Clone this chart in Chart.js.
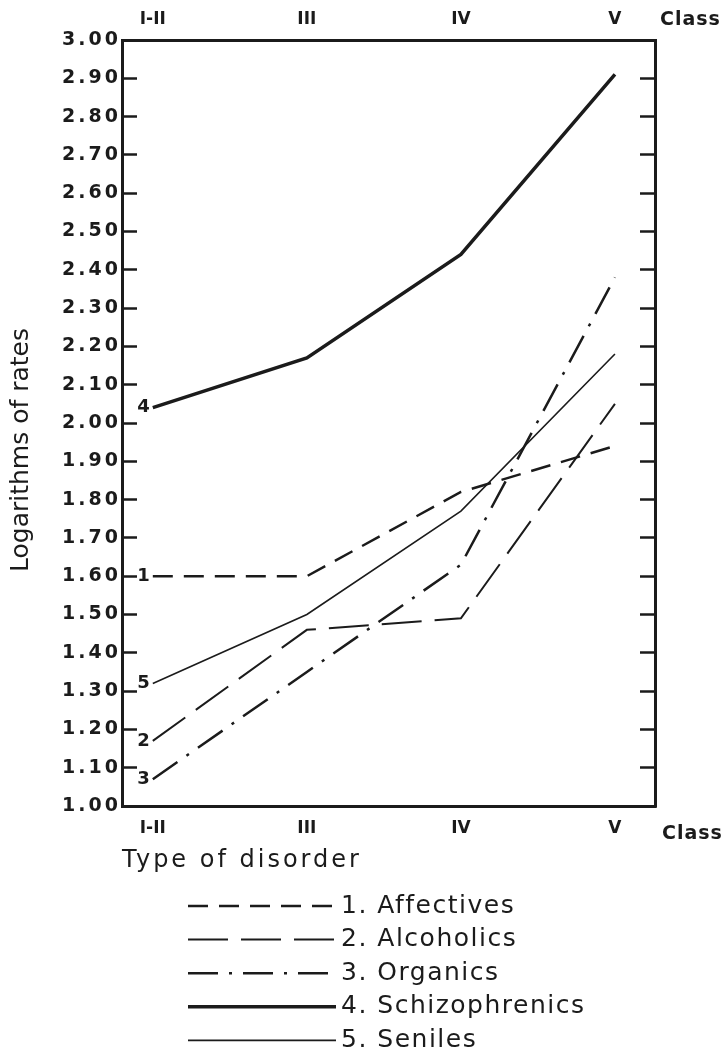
<!DOCTYPE html>
<html>
<head>
<meta charset="utf-8">
<script src="https://cdn.jsdelivr.net/npm/chart.js@4/dist/chart.umd.min.js"></script>
<style>
  html, body { margin: 0; padding: 0; background: #fff; }
  #wrap { width: 725px; height: 1061px; }
</style>
</head>
<body>
<div id="wrap"><canvas id="chart"></canvas></div>
<script>
// Class groups along the x axis
const classes = ['I-II', 'III', 'IV', 'V'];

// Logarithms of rates per class, one list per disorder
const affectives = [1.60, 1.60, 1.82, 1.94];
const alcoholics = [1.17, 1.46, 1.49, 2.05];
const organics = [1.07, 1.35, 1.63, 2.38];
const schizophrenics = [2.04, 2.17, 2.44, 2.91];
const seniles = [1.32, 1.50, 1.77, 2.18];

const disorders = ['Affectives', 'Alcoholics', 'Organics', 'Schizophrenics', 'Seniles'];

// y tick labels
const yTicks = [1.00, 1.10, 1.20, 1.30, 1.40, 1.50, 1.60, 1.70, 1.80, 1.90, 2.00,
                2.10, 2.20, 2.30, 2.40, 2.50, 2.60, 2.70, 2.80, 2.90, 3.00];

const ink = '#1b1b1b';
const fontFamily = '"DejaVu Sans", sans-serif';

// line look for each disorder
const lineStyles = [
    { dash: [20, 11], width: 2.5 },
    { dash: [40, 13], width: 2 },
    { dash: [30, 11, 3, 11], width: 2.5 },
    { dash: [], width: 3.5 },
    { dash: [], width: 1.6 }
];

function toPoints(values) {
    return values.map((v, i) => ({ x: i, y: v }));
}

const series = [affectives, alcoholics, organics, schizophrenics, seniles];

const datasets = series.map((values, i) => ({
    label: disorders[i],
    data: toPoints(values),
    borderColor: ink,
    borderWidth: lineStyles[i].width,
    borderDash: lineStyles[i].dash,
    pointRadius: 0,
    tension: 0,
    fill: false
}));

// shared settings for the class axes (bottom and top)
function classAxis(position, height, pad) {
    return {
        type: 'linear',
        position: position,
        min: -0.2,
        max: 3.26,
        afterBuildTicks: (scale) => {
            scale.ticks = classes.map((c, i) => ({ value: i }));
        },
        afterFit: (scale) => { scale.height = height; },
        ticks: {
            color: ink,
            padding: pad,
            font: { family: fontFamily, size: 17, weight: 'bold' },
            callback: (v) => classes[v]
        },
        grid: { drawOnChartArea: false, drawTicks: false },
        border: { display: true, color: ink, width: 3 }
    };
}

function valueAxis(position, width) {
    return {
        type: 'linear',
        position: position,
        min: 1.0,
        max: 3.0,
        afterBuildTicks: (scale) => {
            scale.ticks = yTicks.map(v => ({ value: v }));
        },
        afterFit: (scale) => { scale.width = width; },
        grid: {
            drawOnChartArea: false,
            drawTicks: true,
            tickLength: -15,
            tickWidth: 2.5,
            tickColor: ink
        },
        border: { display: true, color: ink, width: 3 }
    };
}

const xBottom = classAxis('bottom', 255, 12);
// grid layer (which also paints the title) goes above datasets so the wide spacing applies;
// the border has to follow it since it needs the grid's computed position
xBottom.grid.z = 1;
xBottom.border.z = 1;
xBottom.title = {
    display: true,
    text: 'Type of disorder',
    align: 'start',
    color: ink,
    font: { family: fontFamily, size: 24 },
    padding: { top: 0, bottom: 186 }
};
const xTop = classAxis('top', 40, 10);

const yLeft = valueAxis('left', 122);
yLeft.ticks = {
    color: ink,
    padding: 16,
    z: 1,
    font: { family: fontFamily, size: 19, weight: 'bold' },
    callback: (v) => v.toFixed(2)
};
const yRight = valueAxis('right', 70);
yRight.ticks = { display: false };

// wide lettering for the value labels and the x title (drawn in the z:1 layers)
const spacing = {
    id: 'spacing',
    afterDatasetsDraw(chart) {
        chart.ctx.letterSpacing = '3px';
    },
    afterDraw(chart) {
        chart.ctx.letterSpacing = '0px';
    }
};

// numbers beside the lines, "Class" captions, y title and the key
const annotate = {
    id: 'annotate',
    afterDraw(chart) {
        const ctx = chart.ctx;
        const xs = chart.scales.x;
        const ys = chart.scales.y;
        ctx.save();
        ctx.fillStyle = ink;
        ctx.letterSpacing = '0px';

        ctx.font = 'bold 18px ' + fontFamily;
        ctx.textAlign = 'right';
        ctx.textBaseline = 'middle';
        chart.data.datasets.forEach((ds, i) => {
            const p = ds.data[0];
            ctx.fillText(String(i + 1), xs.getPixelForValue(p.x) - 3, ys.getPixelForValue(p.y));
        });

        ctx.save();
        ctx.translate(21, 450);
        ctx.rotate(-Math.PI / 2);
        ctx.textAlign = 'center';
        ctx.font = '25px ' + fontFamily;
        ctx.fillText('Logarithms of rates', 0, 0);
        ctx.restore();

        ctx.textAlign = 'left';
        ctx.font = 'bold 19px ' + fontFamily;
        ctx.letterSpacing = '1px';
        ctx.fillText('Class', 660, 20);
        ctx.fillText('Class', 662, 834);

        // key
        ctx.font = '25px ' + fontFamily;
        ctx.letterSpacing = '1.5px';
        chart.data.datasets.forEach((ds, i) => {
            const yy = 906 + i * 33.6;
            ctx.beginPath();
            ctx.setLineDash(ds.borderDash);
            ctx.lineWidth = ds.borderWidth;
            ctx.strokeStyle = ink;
            ctx.moveTo(188, yy);
            ctx.lineTo(336, yy);
            ctx.stroke();
            ctx.fillText((i + 1) + '. ' + ds.label, 341, yy);
        });
        ctx.restore();
    }
};

const chart = new Chart(document.getElementById('chart'), {
    type: 'line',
    data: { datasets: datasets },
    options: {
        responsive: true,
        maintainAspectRatio: false,
        animation: false,
        layout: { padding: 0 },
        plugins: {
            legend: { display: false },
            tooltip: { enabled: false }
        },
        scales: {
            x: xBottom,
            xTop: xTop,
            y: yLeft,
            yRight: yRight
        }
    },
    plugins: [spacing, annotate]
});
</script>
</body>
</html>
